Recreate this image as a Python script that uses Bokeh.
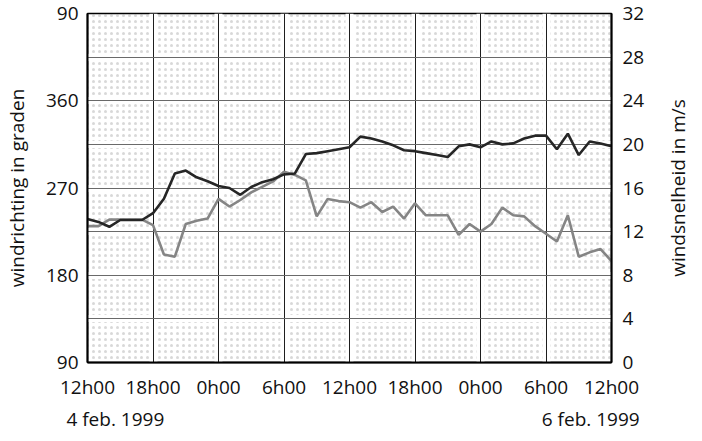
from bokeh.plotting import figure
from bokeh.layouts import row
from bokeh.models import (LinearAxis, Range1d, FixedTicker, BoxAnnotation, Grid)
from bokeh.embed import file_html
from bokeh.resources import INLINE

# ---- data ----
hours = list(range(0, 49))
richting = [238, 235, 230, 237, 237, 237, 244, 259, 285, 288, 281, 277, 272,
            270, 263, 271, 276, 279, 284, 285, 305, 306, 308, 310, 312, 323,
            321, 318, 314, 309, 308, 306, 304, 302, 313, 315, 312, 318, 315,
            316, 321, 324, 324, 310, 326, 304, 318, 316, 313]
snelheid = [12.5, 12.5, 13.1, 13.1, 13.1, 13.1, 12.6, 9.9, 9.7, 12.7, 13.0,
            13.2, 15.0, 14.3, 14.9, 15.6, 16.1, 16.6, 17.5, 17.2, 16.7, 13.4,
            15.0, 14.8, 14.7, 14.2, 14.7, 13.8, 14.3, 13.2, 14.6, 13.5, 13.5,
            13.5, 11.7, 12.7, 12.0, 12.7, 14.2, 13.5, 13.4, 12.5, 11.8, 11.1,
            13.5, 9.7, 10.1, 10.4, 9.3]
x_ticks = [0, 6, 12, 18, 24, 30, 36, 42, 48]
x_labels = ["12h00", "18h00", "0h00", "6h00", "12h00", "18h00", "0h00", "6h00", "12h00"]
dir_ticks = [90, 180, 270, 360, 450]
dir_labels = ["90", "180", "270", "360", "90"]
dir_grid = [90, 135, 180, 225, 270, 315, 360, 405, 450]
speed_ticks = [0, 4, 8, 12, 16, 20, 24, 28, 32]
date_pos = [2.55, 46.1]
dates = ["4 feb. 1999", "6 feb. 1999"]

FONT = "Open Sans"
FS = "19px"
H = 436
TOP, BOTTOM = 13, 74

p = figure(width=663, height=H, output_backend="svg", toolbar_location=None,
           x_range=Range1d(0, 48), y_range=Range1d(90, 450),
           min_border_left=87, min_border_right=52, min_border_top=TOP,
           min_border_bottom=BOTTOM)
p.extra_y_ranges = {"speed": Range1d(0, 32)}
p.background_fill_color = "white"
p.border_fill_color = "white"
p.outline_line_color = "black"
p.outline_line_width = 1.5

# stipple background
bg = BoxAnnotation(fill_alpha=0, line_alpha=0, hatch_pattern="dot",
                   hatch_color="#8f8f8f", hatch_scale=6, hatch_weight=0.8,
                   hatch_alpha=0.35, level="underlay")

# white bands along the grid lines (stipple stops short of the lines)
wgx = Grid(dimension=0, ticker=FixedTicker(ticks=x_ticks),
           grid_line_color="white", grid_line_width=8)
wgy = Grid(dimension=1, ticker=FixedTicker(ticks=dir_grid),
           grid_line_color="white", grid_line_width=7)

# grid
xg = p.xgrid[0]
yg = p.ygrid[0]
xg.ticker = FixedTicker(ticks=x_ticks)
xg.grid_line_color = "#1e1e1e"
xg.grid_line_width = 1
yg.ticker = FixedTicker(ticks=dir_grid)
yg.grid_line_color = "#6a6a6a"
yg.grid_line_width = 1
p.center = [bg, wgx, wgy, xg, yg]

# axes
def style(ax):
    ax.major_label_text_font = FONT
    ax.major_label_text_font_size = FS
    ax.major_label_text_color = "#111111"
    ax.axis_label_text_font = FONT
    ax.axis_label_text_font_size = FS
    ax.axis_label_text_font_style = "normal"
    ax.axis_label_text_color = "#111111"
    ax.major_tick_line_color = None
    ax.minor_tick_line_color = None
    ax.major_tick_out = 0
    ax.major_tick_in = 0
    ax.minor_tick_out = 0
    ax.minor_tick_in = 0
    ax.axis_line_color = "black"
    ax.axis_line_width = 2

xa = p.xaxis[0]
style(xa)
xa.ticker = FixedTicker(ticks=x_ticks)
xa.major_label_overrides = {t: l for t, l in zip(x_ticks, x_labels)}
xa.major_label_standoff = 11

da = LinearAxis(ticker=FixedTicker(ticks=date_pos))
style(da)
da.axis_line_color = None
da.major_label_overrides = {t: l for t, l in zip(date_pos, dates)}
da.major_label_standoff = 3
p.add_layout(da, "below")

ya = p.yaxis[0]
style(ya)
ya.ticker = FixedTicker(ticks=dir_ticks)
ya.major_label_overrides = {t: l for t, l in zip(dir_ticks, dir_labels)}
ya.major_label_standoff = 9
ya.axis_label = "windrichting in graden"
ya.axis_label_standoff = 13

ra = LinearAxis(y_range_name="speed", ticker=FixedTicker(ticks=speed_ticks))
style(ra)
ra.major_label_standoff = 11
p.add_layout(ra, "right")

# series
p.line(hours, snelheid, y_range_name="speed", line_color="#858585", line_width=2.6)
p.line(hours, richting, line_color="#262626", line_width=2.6)

# right-hand axis title (reads bottom-to-top), in a narrow companion figure
lf = figure(width=27, height=H, output_backend="svg", toolbar_location=None,
            x_range=Range1d(0, 1), y_range=Range1d(0, 1),
            min_border_left=0, min_border_right=0, min_border_top=TOP,
            min_border_bottom=BOTTOM)
lf.xaxis.visible = False
lf.grid.visible = False
lf.outline_line_color = None
lf.background_fill_color = "white"
lf.border_fill_color = "white"
la = lf.yaxis[0]
style(la)
la.ticker = FixedTicker(ticks=[])
la.axis_line_color = None
la.major_label_text_font_size = "0px"
la.major_label_standoff = 0
la.axis_label = "windsnelheid in m/s"
la.axis_label_standoff = 0

layout = row(p, lf, spacing=0)
open("out.html", "w").write(file_html(layout, INLINE))
